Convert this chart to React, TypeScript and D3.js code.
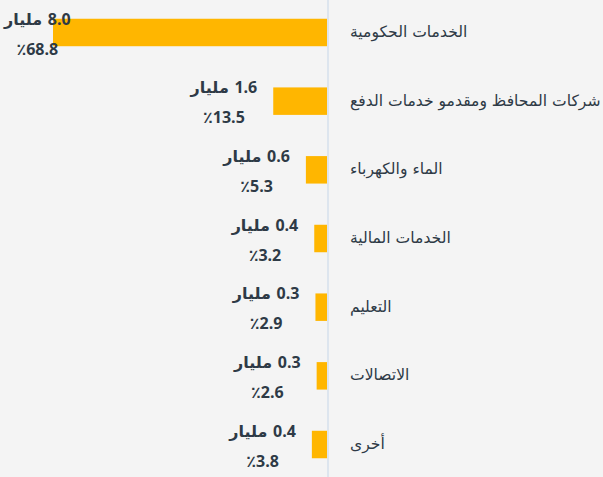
import React, { useEffect, useRef } from "react";
import * as d3 from "d3";

const categories = [
  "الخدمات الحكومية",
  "شركات المحافظ ومقدمو خدمات الدفع",
  "الماء والكهرباء",
  "الخدمات المالية",
  "التعليم",
  "الاتصالات",
  "أخرى",
];
const valuesBillion = [8.0, 1.6, 0.6, 0.4, 0.3, 0.3, 0.4];
const percents = [68.8, 13.5, 5.3, 3.2, 2.9, 2.6, 3.8];

const W = 603;
const H = 477;
const AXIS_X = 327;
const BAR_COLOR = "#ffb600";
const TEXT_COLOR = "#2e3a46";
const FONT = "'Open Sans', 'DejaVu Sans', sans-serif";
const AR_FONT = "'DejaVu Sans', sans-serif";

export default function App() {
  const ref = useRef<SVGSVGElement | null>(null);

  useEffect(() => {
    const svg = d3.select(ref.current);
    svg.selectAll("*").remove();

    svg.append("rect").attr("width", W).attr("height", H).attr("fill", "#f4f4f4");

    const x = d3.scaleLinear().domain([0, 68.8]).range([0, 274]);
    const y = d3
      .scaleBand<string>()
      .domain(categories)
      .range([0, H])
      .paddingInner(0.6)
      .paddingOuter(0.273);

    const data = categories.map((c, i) => ({ c, v: valuesBillion[i], p: percents[i] }));

    svg
      .append("line")
      .attr("x1", AXIS_X + 1)
      .attr("x2", AXIS_X + 1)
      .attr("y1", 0)
      .attr("y2", H)
      .attr("stroke", "#dde5ee")
      .attr("stroke-width", 2);

    svg
      .selectAll("rect.bar")
      .data(data)
      .enter()
      .append("rect")
      .attr("class", "bar")
      .attr("x", (d) => AXIS_X - x(d.p))
      .attr("y", (d) => y(d.c)!)
      .attr("width", (d) => x(d.p))
      .attr("height", y.bandwidth())
      .attr("fill", BAR_COLOR);

    data.forEach((d) => {
      const top = y(d.c)!;
      const barStart = AXIS_X - x(d.p);
      const vt = svg
        .append("text")
        .attr("direction", "rtl")
        .attr("text-anchor", "middle")
        .attr("y", top + 6)
        .attr("font-size", 16)
        .attr("font-weight", "bold")
        .attr("fill", TEXT_COLOR);
      vt.append("tspan").attr("font-family", FONT).attr("letter-spacing", 1).text(d.v.toFixed(1));
      vt.append("tspan").attr("font-family", AR_FONT).attr("font-size", 16).text(" مليار");
      const wNode = vt.node() as SVGTextElement;
      const tw = wNode.getComputedTextLength();
      const cx = Math.max(barStart - 16 - tw / 2, 4 + tw / 2);
      vt.attr("x", cx);

      svg
        .append("text")
        .attr("text-anchor", "middle")
        .attr("x", cx)
        .attr("y", top + 36)
        .attr("font-family", FONT)
        .attr("font-size", 16)
        .attr("font-weight", "bold")
        .attr("letter-spacing", 1)
        .attr("fill", TEXT_COLOR)
        .text(`٪${d.p.toFixed(1)}`);

      svg
        .append("text")
        .attr("text-anchor", "start")
        .attr("x", 350)
        .attr("y", top + y.bandwidth() / 2)
        .attr("dominant-baseline", "middle")
        .attr("font-family", AR_FONT)
        .attr("font-size", 15.6)
        .attr("fill", TEXT_COLOR)
        .text(d.c);
    });
  }, []);

  return (
    <div style={{ position: "fixed", left: 0, top: 0, width: W, height: H }}>
      <svg ref={ref} width={W} height={H} />
    </div>
  );
}
